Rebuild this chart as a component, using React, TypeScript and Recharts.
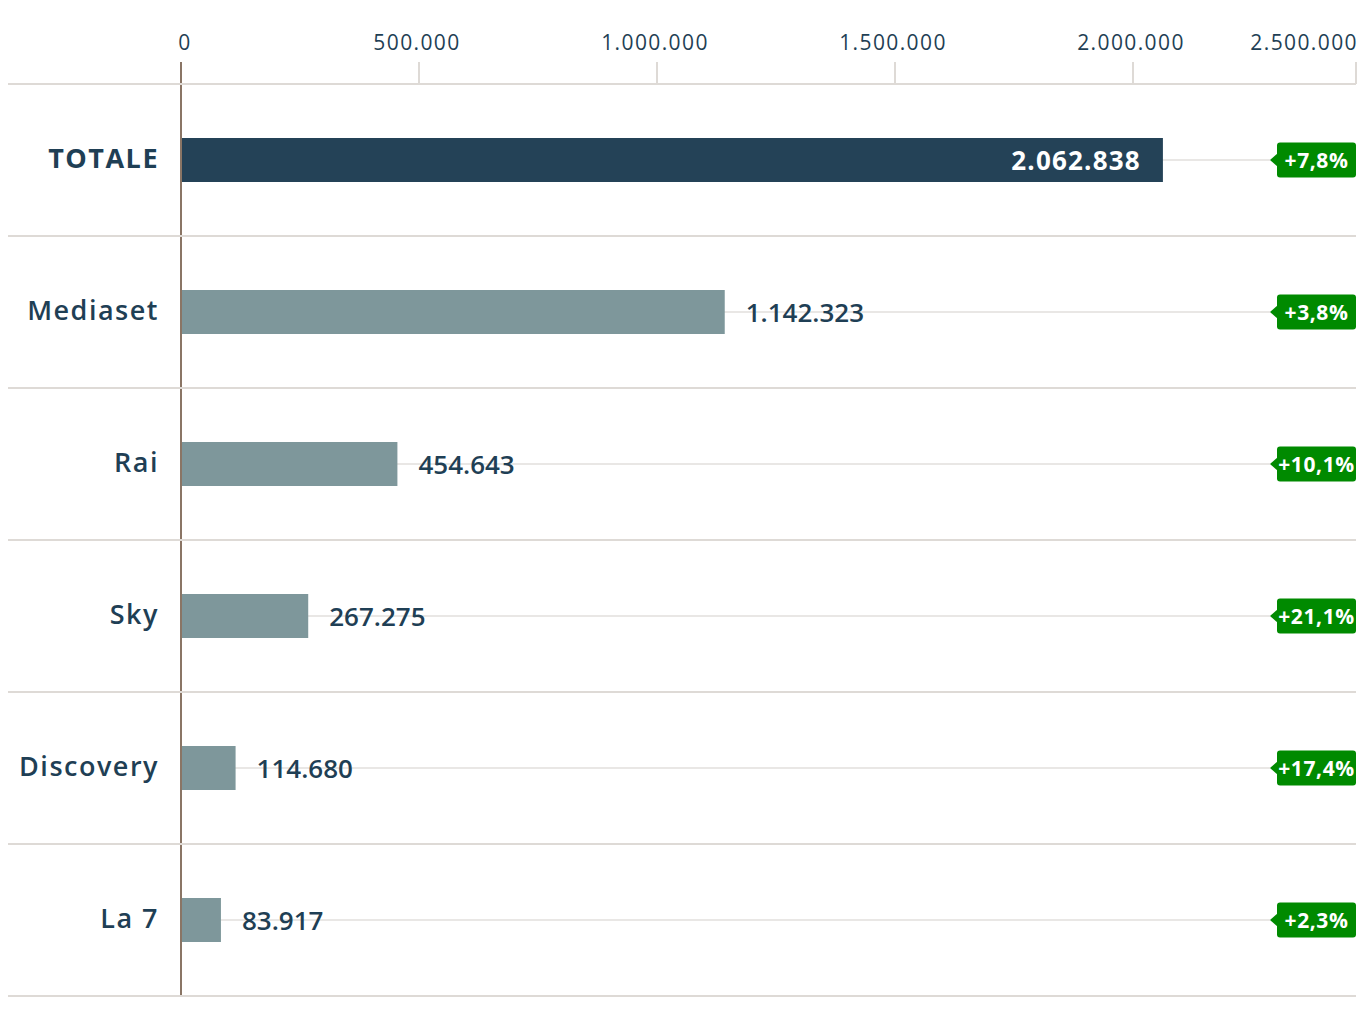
import React from "react";
import { BarChart, Bar, XAxis, YAxis, ReferenceLine, LabelList, Cell } from "recharts";

const categories = ["TOTALE", "Mediaset", "Rai", "Sky", "Discovery", "La 7"];
const values = [2062838, 1142323, 454643, 267275, 114680, 83917];
const changes = [7.8, 3.8, 10.1, 21.1, 17.4, 2.3];
const xTicks = [0, 500000, 1000000, 1500000, 2000000, 2500000];

const W = 1371;
const H = 1012;
const TOP = 84;
const BOTTOM = 16;
const LEFT = 181;
const ROW = (H - TOP - BOTTOM) / categories.length;
const LINE_END = W - 15;
const BADGE_W = 79;
const BADGE_H = 35;

const DARK = "#1f3f55";
const TOTAL_BAR = "#244257";
const BAR = "#7e979b";
const GRID = "#dedad6";
const CENTER_LINE = "#e9e7e5";
const BROWN = "#8a7565";
const GREEN = "#008a00";
const FONT = "'Open Sans', sans-serif";

const data = categories.map((name, i) => ({
  name,
  value: values[i],
  change: changes[i],
}));

const fmt = (n: number) => String(n).replace(/\B(?=(\d{3})+(?!\d))/g, ".");
const fmtChange = (v: number) => "+" + v.toFixed(1).replace(".", ",") + "%";

const XTick = (props: any) => {
  const { x, payload } = props;
  const v = payload.value;
  const last = v === xTicks[xTicks.length - 1];
  const lx = Math.min(x, LINE_END);
  return (
    <g>
      <line x1={lx} x2={lx} y1={62} y2={TOP} stroke={v === 0 ? BROWN : GRID} strokeWidth={2} />
      <text
        x={last ? lx + 2 : v === 0 ? x + 4 : x - 2}
        y={50}
        textAnchor={last ? "end" : "middle"}
        fontSize={21}
        fontWeight={500}
        letterSpacing={1.4}
        fill={DARK}
        fontFamily={FONT}
      >
        {fmt(v)}
      </text>
    </g>
  );
};

const YTick = (props: any) => {
  const { y, payload, index } = props;
  return (
    <g>
      {index === 0 && (
        <line x1={8} x2={LINE_END} y1={y - ROW / 2} y2={y - ROW / 2} stroke={GRID} strokeWidth={2} />
      )}
      <line x1={8} x2={LINE_END} y1={y + ROW / 2} y2={y + ROW / 2} stroke={GRID} strokeWidth={2} />
      <text
        x={LEFT - 22}
        y={y + 8}
        textAnchor="end"
        fontSize={27}
        fontWeight={index === 0 ? 700 : 600}
        letterSpacing={1.5}
        fill={DARK}
        fontFamily={FONT}
      >
        {payload.value}
      </text>
    </g>
  );
};

const CenterLine = (props: any) => {
  const { x, y, height } = props;
  const cy = y + height / 2;
  return <line x1={x} x2={LINE_END - BADGE_W - 7} y1={cy} y2={cy} stroke={CENTER_LINE} strokeWidth={2} />;
};

const ValueLabel = (props: any) => {
  const { x, y, width, height, value, index } = props;
  const cy = y + height / 2 + 10;
  if (index === 0) {
    return (
      <text
        x={x + width - 22}
        y={cy}
        textAnchor="end"
        fontSize={26}
        fontWeight={700}
        letterSpacing={1.2}
        fill="#ffffff"
        fontFamily={FONT}
      >
        {fmt(value)}
      </text>
    );
  }
  return (
    <text x={x + width + 21} y={cy} textAnchor="start" fontSize={26} fontWeight={600} fill={DARK} fontFamily={FONT}>
      {fmt(value)}
    </text>
  );
};

const Badge = (props: any) => {
  const { y, height, value } = props;
  const cy = y + height / 2;
  const bx = LINE_END - BADGE_W;
  return (
    <g>
      <polygon points={`${bx - 7},${cy} ${bx + 1},${cy - 7} ${bx + 1},${cy + 7}`} fill={GREEN} />
      <rect x={bx} y={cy - BADGE_H / 2} width={BADGE_W} height={BADGE_H} rx={3} fill={GREEN} />
      <text
        x={bx + BADGE_W / 2}
        y={cy + 8}
        textAnchor="middle"
        fontSize={21}
        fontWeight={700}
        letterSpacing={0.6}
        fill="#ffffff"
        fontFamily={FONT}
      >
        {fmtChange(value)}
      </text>
    </g>
  );
};

export default function App() {
  return (
    <div style={{ position: "absolute", left: 0, top: 0, width: W, height: H, background: "#fff", fontFamily: FONT }}>
      <BarChart
        layout="vertical"
        width={W}
        height={H}
        data={data}
        margin={{ top: 0, right: 0, bottom: BOTTOM, left: 0 }}
      >
        <XAxis
          type="number"
          orientation="top"
          height={TOP}
          domain={[0, 2500000]}
          ticks={xTicks}
          interval={0}
          tick={XTick}
          axisLine={false}
          tickLine={false}
        />
        <YAxis
          type="category"
          dataKey="name"
          width={LEFT}
          tick={YTick}
          axisLine={false}
          tickLine={false}
          interval={0}
        />
        <Bar dataKey="value" barSize={44} background={CenterLine} isAnimationActive={false}>
          {data.map((d, i) => (
            <Cell key={d.name} fill={i === 0 ? TOTAL_BAR : BAR} />
          ))}
          <LabelList dataKey="value" content={ValueLabel} />
          <LabelList dataKey="change" content={Badge} />
        </Bar>
        <ReferenceLine x={0} stroke={BROWN} strokeWidth={2} />
      </BarChart>
    </div>
  );
}
